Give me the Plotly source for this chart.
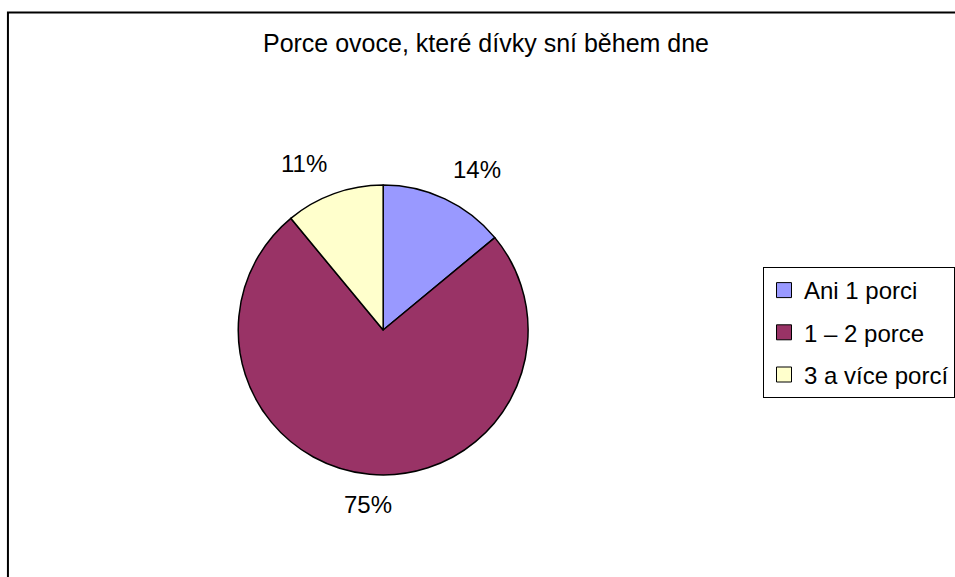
import math
import plotly.graph_objects as go

# Daily fruit portions eaten by girls (share of respondents, %)
categories = ["Ani 1 porci", "1 – 2 porce", "3 a více porcí"]
shares = [14, 75, 11]
colors = ["#9999FF", "#993366", "#FFFFCC"]
title_text = "Porce ovoce, které dívky sní během dne"

W, H = 955, 577
FONT = "Liberation Sans, Arial, sans-serif"

# Pie placement (pixels) -> paper domain
cx, cy, r = 386, 330, 146
dom_x = [(cx - r) / W, (cx + r) / W]
dom_y = [(H - cy - r) / H, (H - cy + r) / H]

fig = go.Figure()
fig.add_trace(
    go.Pie(
        labels=categories,
        values=shares,
        sort=False,
        direction="clockwise",
        rotation=0,
        marker=dict(colors=colors, line=dict(color="black", width=1.5)),
        textinfo="none",
        hoverinfo="label+percent",
        domain=dict(x=dom_x, y=dom_y),
        showlegend=False,
    )
)

# Legend entries with square swatches, one group per category
for i, (name, col) in enumerate(zip(categories, colors)):
    fig.add_trace(
        go.Scatter(
            x=[None], y=[None], mode="markers", name=name,
            legendgroup=f"g{i}",
            marker=dict(symbol="square", size=15, color=col,
                        line=dict(color="black", width=1)),
            hoverinfo="skip",
        )
    )

# Percentage labels placed just outside each slice, along its mid-angle
total = sum(shares)
cum = 0
annotations = []
for v in shares:
    mid = (cum + v / 2) / total * 2 * math.pi
    cum += v
    s, c = math.sin(mid), math.cos(mid)
    lr = r + 14
    px = cx + lr * s
    py = cy - lr * c
    xa = "left" if s > 0.3 else ("right" if s < -0.3 else "center")
    ya = "bottom" if c > 0.3 else ("top" if c < -0.3 else "middle")
    annotations.append(
        dict(
            x=px / W, y=1 - py / H, xref="paper", yref="paper",
            text=f"{round(v / total * 100)}%", showarrow=False,
            xanchor=xa, yanchor=ya,
            font=dict(family=FONT, size=24, color="black"),
        )
    )

fig.update_layout(
    width=W, height=H,
    margin=dict(l=0, r=0, t=0, b=0),
    paper_bgcolor="white",
    plot_bgcolor="white",
    xaxis=dict(visible=False),
    yaxis=dict(visible=False),
    title=dict(
        text=title_text, x=486 / W, xanchor="center",
        y=1 - 43.5 / H, yanchor="middle", yref="paper",
        font=dict(family=FONT, size=25, color="black"),
    ),
    legend=dict(
        x=769 / W, xanchor="left", y=1 - 267 / H, yanchor="top",
        bordercolor="black", borderwidth=1, bgcolor="white",
        tracegroupgap=8, itemclick=False, itemdoubleclick=False,
        font=dict(family=FONT, size=24, color="black"),
    ),
    annotations=annotations,
    shapes=[
        dict(
            type="rect", xref="paper", yref="paper",
            x0=8 / W, x1=1.2, y0=-0.2, y1=1 - 12.5 / H,
            line=dict(color="black", width=2), fillcolor="rgba(0,0,0,0)",
            layer="below",
        )
    ],
)

fig.write_html("out.html")
